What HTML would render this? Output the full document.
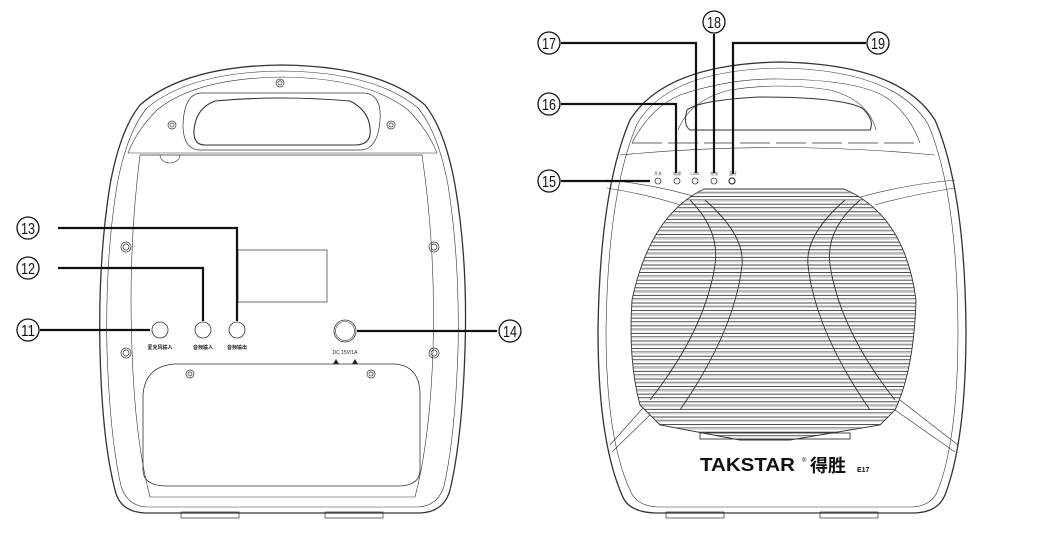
<!DOCTYPE html>
<html><head><meta charset="utf-8"><style>
html,body{margin:0;padding:0;background:#fff}
svg{display:block}
text{font-family:"Liberation Sans","Noto Sans CJK SC",sans-serif}
</style></head><body>
<svg width="1040" height="542" viewBox="0 0 1040 542" xmlns="http://www.w3.org/2000/svg">
<defs>
<pattern id="slats" x="0" y="188" width="10" height="7.6" patternUnits="userSpaceOnUse">
<rect x="0" y="0" width="10" height="7.6" fill="#fff"/>
<line x1="0" y1="1" x2="10" y2="1" stroke="#333" stroke-width="0.9"/>
<line x1="0" y1="4.2" x2="10" y2="4.2" stroke="#555" stroke-width="0.8"/>
<line x1="0" y1="5.6" x2="10" y2="5.6" stroke="#bbb" stroke-width="0.7"/>
</pattern>
<clipPath id="gc"><path d="M704 189 L844 189 Q905 215 916 300 Q914 370 895 410 L880 425 L790 440 L740 440 L660 425 L640 405 Q628 360 632 300 Q650 215 704 189 Z"/></clipPath>
</defs>
<g fill="none" stroke="#333" stroke-width="1">
<!-- LEFT BODY -->
<path d="M282 65 Q380 66 425 105 Q445 130 455 185 Q468 260 465 350 Q462 440 450 490 Q444 512 420 513 L145 513 Q120 512 115 490 Q102 440 100 350 Q98 260 110 185 Q120 130 140 105 Q185 66 282 65 Z" stroke-width="1.3"/>
<path d="M282 71 Q375 72 418 108 Q438 132 448 185 Q460 260 458 350 Q455 438 444 486 Q438 506 418 507 L147 507 Q127 506 121 486 Q110 438 107 350 Q105 260 117 185 Q127 132 147 108 Q190 72 282 71 Z" stroke-width="0.6"/>
<path d="M282 77 Q368 78 408 110 Q428 130 437 153 L128 153 Q137 130 157 110 Q196 78 282 77 Z" stroke-width="0.6"/>
<path d="M140 155 Q128 250 132 350 Q135 440 150 497 L415 497 Q430 440 433 350 Q436 250 422 155" stroke-width="0.6"/>
<line x1="140" y1="155" x2="422" y2="155" stroke-width="0.8"/>
<path d="M160 155 A10 8 0 0 0 180 155" stroke-width="0.6"/>
<path d="M200 93 L365 93 Q382 95 380 120 Q378 148 362 150 L198 150 Q183 148 183 125 Q184 95 200 93 Z" stroke-width="0.7"/>
<path d="M215 101 Q280 95 350 101 Q372 112 370 135 Q368 145 355 145 L205 145 Q193 145 194 130 Q196 108 215 101 Z" stroke-width="1.1"/>
<g stroke-width="0.7">
<circle cx="280" cy="83" r="4"/><circle cx="280" cy="83" r="2"/>
<circle cx="172" cy="125" r="4"/><circle cx="172" cy="125" r="2"/>
<circle cx="391" cy="125" r="4"/><circle cx="391" cy="125" r="2"/>
<circle cx="126" cy="247" r="5"/><circle cx="126" cy="247" r="3"/>
<circle cx="434" cy="247" r="5"/><circle cx="434" cy="247" r="3"/>
<circle cx="126" cy="353" r="5"/><circle cx="126" cy="353" r="3"/>
<circle cx="434" cy="353" r="5"/><circle cx="434" cy="353" r="3"/>
<circle cx="190" cy="374" r="4"/><circle cx="190" cy="374" r="2"/>
<circle cx="371" cy="374" r="4"/><circle cx="371" cy="374" r="2"/>
</g>
<rect x="238" y="250" width="89" height="52" stroke-width="0.7"/>
<circle cx="160" cy="330" r="8" stroke-width="0.8"/>
<circle cx="203" cy="330" r="8" stroke-width="0.8"/>
<circle cx="237" cy="330" r="8" stroke-width="0.8"/>
<circle cx="345" cy="331" r="11" stroke-width="0.8"/>
<circle cx="345" cy="331" r="9.5" stroke-width="0.6"/>
<path d="M175 364 L395 364 Q420 366 420 395 L420 470 Q420 485 400 486 L165 486 Q143 485 143 470 L143 395 Q145 366 175 364 Z" stroke-width="0.8"/>
<rect x="181" y="512" width="58" height="6" stroke-width="0.7"/>
<rect x="325" y="512" width="58" height="6" stroke-width="0.7"/>
<g stroke="#111" stroke-width="2.2">
<polyline points="40,330 150,330"/>
<polyline points="58,268 203,268 203,321"/>
<polyline points="58,228 237,228 237,321"/>
<polyline points="357,331 497,331"/>
</g>
<!-- RIGHT BODY -->
<path d="M780 62 Q900 64 935 120 Q965 190 966 330 Q966 440 945 495 Q938 512 915 513 L655 513 Q628 512 622 495 Q598 440 598 330 Q600 190 630 120 Q665 64 780 62 Z" stroke-width="1.3"/>
<path d="M780 68 Q895 70 928 124 Q957 192 958 330 Q958 438 938 490 Q932 506 912 507 L658 507 Q636 506 630 490 Q606 438 606 330 Q608 192 637 124 Q668 70 780 68 Z" stroke-width="0.6"/>
<path d="M632 143 Q650 108 680 95 Q730 78 780 79 Q860 80 887 98 Q910 115 920 143" stroke-width="0.6"/>
<path d="M678 130 Q690 100 730 90 Q780 82 830 90 Q868 100 876 130" stroke-width="0.6"/>
<path d="M687 110 Q700 100 760 97 Q840 97 862 108 Q875 120 870 130 L690 130 Q683 125 687 110 Z" stroke-width="1"/>
<path d="M632 143 L920 143" stroke-width="0.7" stroke-dasharray="30 6"/>
<path d="M620 155 Q775 140 935 155" stroke-width="0.6"/>
<path d="M607 180 Q660 185 706 200" stroke-width="0.6"/>
<path d="M607 188 Q650 195 680 205" stroke-width="0.6"/>
<path d="M955 180 Q900 185 850 200" stroke-width="0.6"/>
<path d="M955 188 Q910 195 875 205" stroke-width="0.6"/>
<path d="M610 445 L650 400" stroke-width="0.6"/><path d="M612 452 L655 410" stroke-width="0.6"/>
<path d="M958 445 L900 400" stroke-width="0.6"/><path d="M955 452 L895 410" stroke-width="0.6"/>
<g stroke-width="0.8">
<circle cx="658" cy="181" r="3"/><circle cx="677" cy="181" r="3"/><circle cx="695" cy="181" r="3"/><circle cx="714" cy="181" r="3"/><circle cx="732" cy="181" r="3" stroke-width="1.2"/>
</g>
</g>
<rect x="600" y="180" width="340" height="270" fill="url(#slats)" clip-path="url(#gc)"/>
<g fill="none" stroke="#333" stroke-width="0.9" clip-path="url(#gc)">
<path d="M690 200 Q720 230 715 265 Q705 330 650 400"/>
<path d="M705 200 Q745 235 742 265 Q735 330 680 410"/>
<path d="M860 200 Q825 230 830 265 Q840 330 895 400"/>
<path d="M845 200 Q805 235 808 265 Q815 330 870 410"/>
</g>
<g fill="none" stroke="#333" stroke-width="0.9">
<path d="M704 189 L844 189 Q905 215 916 300 Q914 370 895 410 L880 425 L790 440 L740 440 L660 425 L640 405 Q628 360 632 300 Q650 215 704 189 Z"/>
<rect x="700" y="433" width="150" height="6"/>
</g>
<rect x="666" y="512" width="58" height="6" fill="none" stroke="#333" stroke-width="0.7"/>
<rect x="820" y="512" width="58" height="6" fill="none" stroke="#333" stroke-width="0.7"/>
<g fill="none" stroke="#111" stroke-width="2.2">
<polyline points="561,181 650,181"/>
<polyline points="561,104 676,104 676,173"/>
<polyline points="561,43 696,43 696,173"/>
<polyline points="714,34 714,173"/>
<polyline points="866,43 733,43 733,174"/>
</g>
<g fill="none" stroke="#111" stroke-width="1.3">
<circle cx="28" cy="330" r="11"/><circle cx="28" cy="268" r="11"/><circle cx="28" cy="228" r="11"/><circle cx="510" cy="331" r="11"/>
<circle cx="549" cy="181" r="11"/><circle cx="549" cy="104" r="11"/><circle cx="549" cy="43" r="11"/><circle cx="714" cy="22" r="11"/><circle cx="878" cy="43" r="11"/>
</g>
<g font-size="16" text-anchor="middle" fill="#111">
<text x="28" y="336" textLength="14" lengthAdjust="spacingAndGlyphs">11</text><text x="28" y="274" textLength="14" lengthAdjust="spacingAndGlyphs">12</text><text x="28" y="234" textLength="14" lengthAdjust="spacingAndGlyphs">13</text><text x="510" y="337" textLength="14" lengthAdjust="spacingAndGlyphs">14</text>
<text x="549" y="187" textLength="14" lengthAdjust="spacingAndGlyphs">15</text><text x="549" y="110" textLength="14" lengthAdjust="spacingAndGlyphs">16</text><text x="549" y="49" textLength="14" lengthAdjust="spacingAndGlyphs">17</text><text x="714" y="28" textLength="14" lengthAdjust="spacingAndGlyphs">18</text><text x="878" y="49" textLength="14" lengthAdjust="spacingAndGlyphs">19</text>
</g>
<g font-size="5" text-anchor="middle" fill="#222" font-weight="bold">
<text x="160" y="349">麦克风输入</text><text x="203" y="349">音频输入</text><text x="237" y="349">音频输出</text>
<text x="345" y="354" font-weight="normal">DC 15V/1A</text>
</g>
<path d="M333 364 l3 -5 l3 5 z M352 364 l3 -5 l3 5 z" fill="#222"/>
<g font-size="4" text-anchor="middle" fill="#444">
<text x="658" y="175">开关</text><text x="677" y="175">电源</text><text x="695" y="175">LINE</text><text x="714" y="175">充电</text><text x="733" y="175">蓝牙</text>
</g>
<text x="700" y="471" font-size="18" font-weight="bold" fill="#111" textLength="95" lengthAdjust="spacingAndGlyphs">TAKSTAR</text>
<text x="802" y="462" font-size="6" fill="#111">®</text>
<text x="810" y="472" font-size="18" font-weight="bold" fill="#111">得胜</text>
<text x="857" y="472" font-size="7" font-weight="bold" fill="#111">E17</text>
</svg>
</body></html>
